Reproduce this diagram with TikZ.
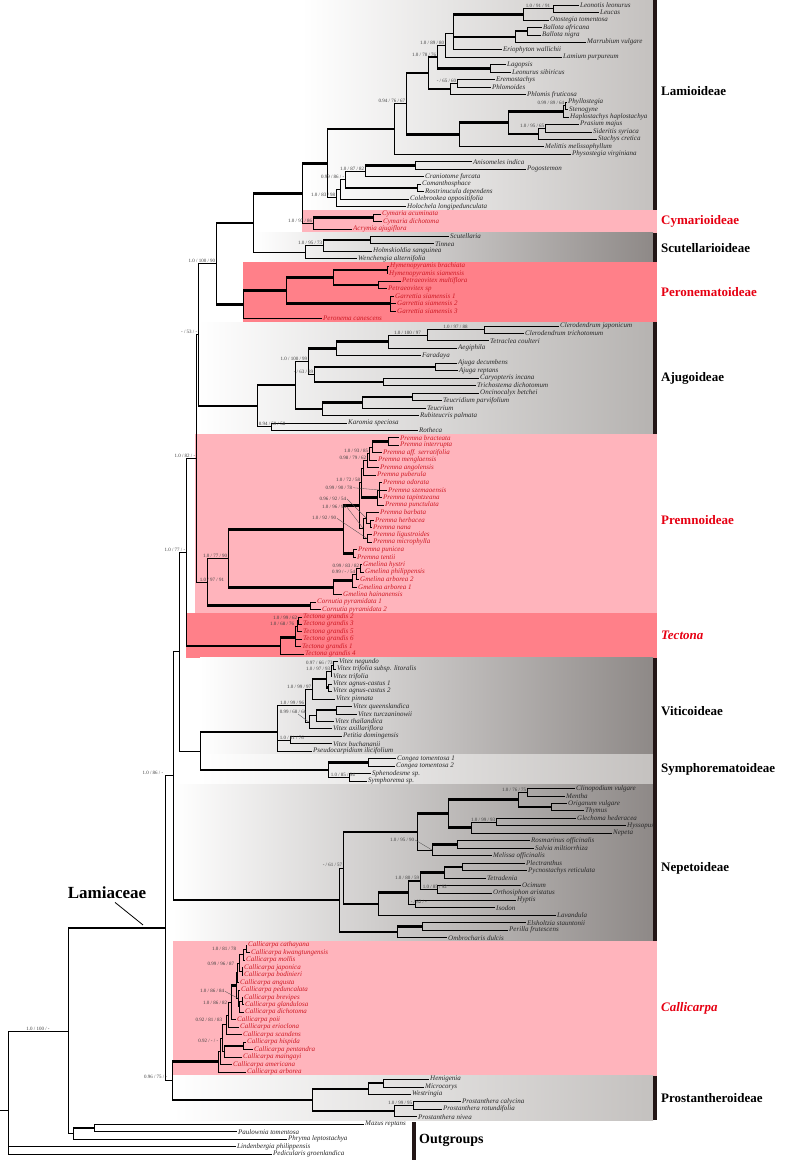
\documentclass[tikz,border=0pt]{standalone}
\usepackage{fontspec}
\setmainfont{Liberation Serif}
\usetikzlibrary{calc}
\definecolor{pinkbg}{RGB}{255,180,188}
\definecolor{salmonbg}{RGB}{255,128,137}
\definecolor{darkbg}{RGB}{142,137,135}
\definecolor{lightbg}{RGB}{196,193,191}
\definecolor{midbg}{RGB}{182,179,177}
\definecolor{redlab}{RGB}{230,0,18}
\definecolor{redtax}{RGB}{205,25,35}
\definecolor{barcol}{RGB}{35,22,22}

\begin{document}
\begin{tikzpicture}[x=1pt, y=-7.461pt,
    taxon/.style={anchor=west, inner sep=1pt, font=\fontsize{7}{8}\selectfont\itshape, text=black!85},
    rtaxon/.style={taxon, text=redtax},
    supp/.style={inner sep=0.6pt, font=\fontsize{5}{6}\selectfont, text=black!75},
    sfam/.style={anchor=west, inner sep=0pt, font=\fontsize{13}{15}\selectfont\bfseries},
    hb/.style={line width=2.4pt},
    ptr/.style={line width=0.3pt, black!70}]

\useasboundingbox (0pt,0pt) rectangle (787pt,-1160pt);

\begin{scope}[yshift=-5pt]
    % clade boxes
    \shade[left color=white, right color=lightbg] (302,-0.67) rectangle (653,27.5);
    \fill[pinkbg] (302,27.5) rectangle (657,30.5);
    \shade[left color=white, right color=darkbg] (253,30.5) rectangle (653,34.5);
    \fill[salmonbg] (243,34.5) rectangle (657,42.5);
    \shade[left color=white, right color=midbg] (198,42.5) rectangle (653,57.5);
    \fill[pinkbg] (195,57.5) rectangle (657,81.5);
    \fill[salmonbg] (186,81.5) rectangle (657,87.5);
    \shade[left color=white, right color=darkbg] (200,87.5) rectangle (653,100.5);
    \shade[left color=white, right color=lightbg] (200,100.5) rectangle (653,104.5);
    \shade[left color=white, right color=darkbg] (173,104.5) rectangle (653,125.5);
    \fill[pinkbg] (173,125.5) rectangle (657,143.5);
    \shade[left color=white, right color=lightbg] (173,143.5) rectangle (653,149.5);
    % bars
    \fill[barcol] (653,-0.67) rectangle (657,27.5);
    \fill[barcol] (653,30.5) rectangle (657,34.5);
    \fill[barcol] (653,42.5) rectangle (657,57.5);
    \fill[barcol] (653,87.5) rectangle (657,125.5);
    \fill[barcol] (653,143.5) rectangle (657,149.5);
    \fill[barcol] (412,149.7) rectangle (416,154.9);

    % taxa
    \node[taxon] (leon) at (579,0) {Leonotis leonurus};
    \node[taxon] (leuc) at (599,1) {Leucas};
    \node[taxon] (otos) at (549,2) {Otostegia tomentosa};
    \node[taxon] (balaf) at (542,3) {Ballota africana};
    \node[taxon] (balni) at (541,4) {Ballota nigra};
    \node[taxon] (marr) at (586,5) {Marrubium vulgare};
    \node[taxon] (erio) at (502,6) {Eriophyton wallichii};
    \node[taxon] (lami) at (562,7) {Lamium purpureum};
    \node[taxon] (lago) at (506,8) {Lagopsis};
    \node[taxon] (leonu) at (511,9) {Leonurus sibiricus};
    \node[taxon] (eremo) at (495,10) {Eremostachys};
    \node[taxon] (phlo) at (491,11) {Phlomoides};
    \node[taxon] (phlfr) at (526,12) {Phlomis fruticosa};
    \node[taxon] (phyl) at (567,13) {Phyllostegia};
    \node[taxon] (sten) at (568,14) {Stenogyne};
    \node[taxon] (hapl) at (569,15) {Haplostachys haplostachya};
    \node[taxon] (pras) at (579,16) {Prasium majus};
    \node[taxon] (side) at (592,17) {Sideritis syriaca};
    \node[taxon] (stac) at (597,18) {Stachys cretica};
    \node[taxon] (meli) at (544,19) {Melittis melissophyllum};
    \node[taxon] (phys) at (571,20) {Physostegia virginiana};
    \node[taxon] (anis) at (472,21) {Anisomeles indica};
    \node[taxon] (pogo) at (526,22) {Pogostemon};
    \node[taxon] (cran) at (424,23) {Craniotome furcata};
    \node[taxon] (coma) at (421,24) {Comanthosphace};
    \node[taxon] (rost) at (424,25) {Rostrinucula dependens};
    \node[taxon] (cole) at (409,26) {Colebrookea oppositifolia};
    \node[taxon] (holo) at (406,27) {Holochela longipedunculata};
    \node[rtaxon] (cymac) at (381,28) {Cymaria acuminata};
    \node[rtaxon] (cymdi) at (382,29) {Cymaria dichotoma};
    \node[rtaxon] (acry) at (352,30) {Acrymia ajugiflora};
    \node[taxon] (scut) at (449,31) {Scutellaria};
    \node[taxon] (tinn) at (434,32) {Tinnea};
    \node[taxon] (holm) at (372,33) {Holmskioldia sanguinea};
    \node[taxon] (wenc) at (357,34) {Wenchengia alternifolia};
    \node[rtaxon] (hymbr) at (389,35) {Hymenopyramis brachiata};
    \node[rtaxon] (hymsi) at (388,36) {Hymenopyramis siamensis};
    \node[rtaxon] (petmu) at (401,37) {Petraeovitex multiflora};
    \node[rtaxon] (petsp) at (387,38) {Petraeovitex sp};
    \node[rtaxon] (gar1) at (394,39) {Garrettia siamensis 1};
    \node[rtaxon] (gar2) at (396,40) {Garrettia siamensis 2};
    \node[rtaxon] (gar3) at (396,41) {Garrettia siamensis 3};
    \node[rtaxon] (pero) at (322,42) {Peronema canescens};
    \node[taxon] (clja) at (559,43) {Clerodendrum japonicum};
    \node[taxon] (cltr) at (524,44) {Clerodendrum trichotomum};
    \node[taxon] (tetr) at (489,45) {Tetraclea coulteri};
    \node[taxon] (aegi) at (457,46) {Aegiphila};
    \node[taxon] (fara) at (421,47) {Faradaya};
    \node[taxon] (ajde) at (457,48) {Ajuga decumbens};
    \node[taxon] (ajre) at (458,49) {Ajuga reptans};
    \node[taxon] (cary) at (479,50) {Caryopteris incana};
    \node[taxon] (tric) at (476,51) {Trichostema dichotomum};
    \node[taxon] (onci) at (479,52) {Oncinocalyx betchei};
    \node[taxon] (teuc) at (442,53) {Teucridium parvifolium};
    \node[taxon] (teucr) at (426,54) {Teucrium};
    \node[taxon] (rubi) at (419,55) {Rubiteucris palmata};
    \node[taxon] (karo) at (347,56) {Karomia speciosa};
    \node[taxon] (roth) at (418,57) {Rotheca};
    \node[rtaxon] (prbr) at (399,58) {Premna bracteata};
    \node[rtaxon] (prin) at (399,59) {Premna interrupta};
    \node[rtaxon] (prse) at (382,60) {Premna aff. serratifolia};
    \node[rtaxon] (prme) at (377,61) {Premna menglaensis};
    \node[rtaxon] (pran) at (379,62) {Premna angolensis};
    \node[rtaxon] (prpu) at (376,63) {Premna puberula};
    \node[rtaxon] (prod) at (382,64) {Premna odorata};
    \node[rtaxon] (prsz) at (387,65) {Premna szemaoensis};
    \node[rtaxon] (prta) at (382,66) {Premna tapintzeana};
    \node[rtaxon] (prpc) at (384,67) {Premna punctulata};
    \node[rtaxon] (prba) at (379,68) {Premna barbata};
    \node[rtaxon] (prhe) at (374,69) {Premna herbacea};
    \node[rtaxon] (prna) at (372,70) {Premna nana};
    \node[rtaxon] (prli) at (372,71) {Premna ligustroides};
    \node[rtaxon] (prmi) at (372,72) {Premna microphylla};
    \node[rtaxon] (prpn) at (357,73) {Premna punicea};
    \node[rtaxon] (prte) at (356,74) {Premna tentii};
    \node[rtaxon] (gmhy) at (362,75) {Gmelina hystri};
    \node[rtaxon] (gmph) at (364,76) {Gmelina philippensis};
    \node[rtaxon] (gmar2) at (359,77) {Gmelina arborea 2};
    \node[rtaxon] (gmar1) at (357,78) {Gmelina arborea 1};
    \node[rtaxon] (gmha) at (342,79) {Gmelina hainanensis};
    \node[rtaxon] (corn1) at (316,80) {Cornutia pyramidata 1};
    \node[rtaxon] (corn2) at (321,81) {Cornutia pyramidata 2};
    \node[rtaxon] (tg2) at (302,82) {Tectona grandis 2};
    \node[rtaxon] (tg3) at (302,83) {Tectona grandis 3};
    \node[rtaxon] (tg5) at (302,84) {Tectona grandis 5};
    \node[rtaxon] (tg6) at (302,85) {Tectona grandis 6};
    \node[rtaxon] (tg1) at (301,86) {Tectona grandis 1};
    \node[rtaxon] (tg4) at (304,87) {Tectona grandis 4};
    \node[taxon] (vneg) at (338,88) {Vitex negundo};
    \node[taxon] (vtrl) at (336,89) {Vitex trifolia subsp. litoralis};
    \node[taxon] (vtri) at (332,90) {Vitex trifolia};
    \node[taxon] (vag1) at (332,91) {Vitex agnus-castus 1};
    \node[taxon] (vag2) at (332,92) {Vitex agnus-castus 2};
    \node[taxon] (vpin) at (335,93) {Vitex pinnata};
    \node[taxon] (vque) at (352,94) {Vitex queenslandica};
    \node[taxon] (vtur) at (357,95) {Vitex turczaninowii};
    \node[taxon] (vtha) at (334,96) {Vitex thailandica};
    \node[taxon] (vaxi) at (332,97) {Vitex axillariflora};
    \node[taxon] (peti) at (342,98) {Petitia domingensis};
    \node[taxon] (vbuc) at (332,99) {Vitex buchananii};
    \node[taxon] (pseu) at (312,100) {Pseudocarpidium ilicifolium};
    \node[taxon] (cong1) at (396,101) {Congea tomentosa 1};
    \node[taxon] (cong2) at (395,102) {Congea tomentosa 2};
    \node[taxon] (sphe) at (371,103) {Sphenodesme sp.};
    \node[taxon] (symp) at (367,104) {Symphorema sp.};
    \node[taxon] (clin) at (575,105) {Clinopodium vulgare};
    \node[taxon] (ment) at (565,106) {Mentha};
    \node[taxon] (orig) at (567,107) {Origanum vulgare};
    \node[taxon] (thym) at (584,108) {Thymus};
    \node[taxon] (glec) at (576,109) {Glechoma hederacea};
    \node[taxon] (hyss) at (626,110) {Hyssopus};
    \node[taxon] (nepe) at (612,111) {Nepeta};
    \node[taxon] (rosm) at (530,112) {Rosmarinus officinalis};
    \node[taxon] (salv) at (534,113) {Salvia miltiorrhiza};
    \node[taxon] (melo) at (492,114) {Melissa officinalis};
    \node[taxon] (plec) at (525,115) {Plectranthus};
    \node[taxon] (pycn) at (527,116) {Pycnostachys reticulata};
    \node[taxon] (tetd) at (486,117) {Tetradenia};
    \node[taxon] (ocim) at (521,118) {Ocimum};
    \node[taxon] (orth) at (492,119) {Orthosiphon aristatus};
    \node[taxon] (hypt) at (516,120) {Hyptis};
    \node[taxon] (isod) at (495,121) {Isodon};
    \node[taxon] (lava) at (556,122) {Lavandula};
    \node[taxon] (elsh) at (526,123) {Elsholtzia stauntonii};
    \node[taxon] (peri) at (508,124) {Perilla frutescens};
    \node[taxon] (ombr) at (447,125) {Ombrocharis dulcis};
    \node[rtaxon] (cacat) at (247,126) {Callicarpa cathayana};
    \node[rtaxon] (cakwa) at (250,127) {Callicarpa kwangtungensis};
    \node[rtaxon] (camol) at (245,128) {Callicarpa mollis};
    \node[rtaxon] (cajap) at (243,129) {Callicarpa japonica};
    \node[rtaxon] (cabod) at (243,130) {Callicarpa bodinieri};
    \node[rtaxon] (caang) at (239,131) {Callicarpa angusta};
    \node[rtaxon] (caped) at (240,132) {Callicarpa peduncalata};
    \node[rtaxon] (cabre) at (243,133) {Callicarpa brevipes};
    \node[rtaxon] (cagla) at (244,134) {Callicarpa glandulosa};
    \node[rtaxon] (cadic) at (244,135) {Callicarpa dichotoma};
    \node[rtaxon] (capoi) at (236,136) {Callicarpa poii};
    \node[rtaxon] (caeri) at (239,137) {Callicarpa erioclona};
    \node[rtaxon] (casca) at (242,138) {Callicarpa scandens};
    \node[rtaxon] (cahis) at (246,139) {Callicarpa hispida};
    \node[rtaxon] (capen) at (253,140) {Callicarpa pentandra};
    \node[rtaxon] (camai) at (242,141) {Callicarpa maingayi};
    \node[rtaxon] (caame) at (232,142) {Callicarpa americana};
    \node[rtaxon] (caarb) at (246,143) {Callicarpa arborea};
    \node[taxon] (hemi) at (429,144) {Hemigenia};
    \node[taxon] (micr) at (424,145) {Microcorys};
    \node[taxon] (west) at (411,146) {Westringia};
    \node[taxon] (prcal) at (461,147) {Prostanthera calycina};
    \node[taxon] (prrot) at (442,148) {Prostanthera rotundifolia};
    \node[taxon] (prniv) at (417,149) {Prostanthera nivea};
    \node[taxon] (mazu) at (364,150) {Mazus reptans};
    \node[taxon] (paul) at (237,151) {Paulownia tomentosa};
    \node[taxon] (phry) at (287,152) {Phryma leptostachya};
    \node[taxon] (lind) at (236,153) {Lindenbergia philippensis};
    \node[taxon] (pedi) at (272,154) {Pedicularis groenlandica};

    % inner nodes
    \coordinate (lam1) at (553,0.5);
    \coordinate (lam2) at (523,1.25);
    \coordinate (lam3) at (527,3.5);
    \coordinate (lam4) at (515,4.25);
    \coordinate (lam5) at (453,3.833);
    \coordinate (lam7) at (445,5.417);
    \coordinate (lam8) at (490,8.5);
    \coordinate (lam9) at (437,6.958);
    \coordinate (lam10) at (457,10.5);
    \coordinate (lam11) at (450,11.25);
    \coordinate (lam12) at (428,9.104);
    \coordinate (lam13) at (565,13.5);
    \coordinate (lam14) at (563,14.25);
    \coordinate (lam16) at (545,16.5);
    \coordinate (lam17) at (538,17.25);
    \coordinate (lam18) at (508,15.75);
    \coordinate (lam19) at (459,17.375);
    \coordinate (lam20) at (406,13.24);
    \coordinate (lam21) at (394,16.62);
    \coordinate (po1) at (415,21.5);
    \coordinate (po2) at (365,22.25);
    \coordinate (po3) at (417,24.5);
    \coordinate (po4) at (345,23.375);
    \coordinate (po5) at (340,24.69);
    \coordinate (po6) at (336,25.84);
    \coordinate (bk7) at (327,21.23);
    \coordinate (cy1) at (373,28.5);
    \coordinate (cy2) at (313,29.25);
    \coordinate (bk8) at (302,25.24);
    \coordinate (sc1) at (370,31.5);
    \coordinate (sc2) at (323,32.25);
    \coordinate (sc3) at (305,33.125);
    \coordinate (bk9) at (253,29.18);
    \coordinate (pe1) at (387,35.5);
    \coordinate (pe2) at (378,37.5);
    \coordinate (pe3) at (333,36.5);
    \coordinate (pe4) at (390,40);
    \coordinate (pe5) at (286,38.25);
    \coordinate (pe6) at (243,40.125);
    \coordinate (bk10) at (216,34.65);
    \coordinate (aj1) at (484,43.5);
    \coordinate (aj2) at (427,44.25);
    \coordinate (aj3) at (388,45.125);
    \coordinate (aj4) at (336,46.06);
    \coordinate (aj5) at (435,48.5);
    \coordinate (aj6) at (383,50.5);
    \coordinate (aj7) at (314,49.5);
    \coordinate (aj8) at (308,47.78);
    \coordinate (aj9) at (412,52.5);
    \coordinate (aj10) at (362,53.25);
    \coordinate (aj11) at (322,54.125);
    \coordinate (aj12) at (295,50.95);
    \coordinate (aj13) at (271,56.5);
    \coordinate (aj14) at (257,53.73);
    \coordinate (bk11) at (198,44.19);
    \coordinate (pm1) at (388,58.5);
    \coordinate (pm2) at (372,59.25);
    \coordinate (pm3) at (369,60.125);
    \coordinate (pm4) at (367,61.06);
    \coordinate (pm5) at (363,62.03);
    \coordinate (pm6a) at (379,65);
    \coordinate (pm6) at (377,66);
    \coordinate (pm7) at (361,64.02);
    \coordinate (pm8a) at (370,69.5);
    \coordinate (pm8) at (366,68.75);
    \coordinate (pm9) at (367,71.5);
    \coordinate (pm10) at (363,70.125);
    \coordinate (pm11) at (359,67.07);
    \coordinate (pm12) at (353,73.5);
    \coordinate (pm13) at (343,70.29);
    \coordinate (gm1) at (360,75.5);
    \coordinate (gm2) at (356,76.25);
    \coordinate (gm3) at (352,77.125);
    \coordinate (gm4) at (333,78.06);
    \coordinate (pm77) at (228,74.18);
    \coordinate (cn) at (310,80.5);
    \coordinate (pmc) at (207,77.34);
    \coordinate (bk12) at (196,60.77);
    \coordinate (tc1) at (298,82.5);
    \coordinate (tc2) at (297,83.25);
    \coordinate (tc3) at (295.5,84.75);
    \coordinate (tc4) at (280,85.875);
    \coordinate (bk13) at (186,73.32);
    \coordinate (vi1) at (333.5,88.5);
    \coordinate (vi2) at (331,89.25);
    \coordinate (vi3) at (328,91.5);
    \coordinate (vi4) at (326,90.375);
    \coordinate (vi5) at (312,91.69);
    \coordinate (vi6) at (336,94.5);
    \coordinate (vi7) at (316,95.25);
    \coordinate (vi8) at (309,96.125);
    \coordinate (vi9) at (305,93.91);
    \coordinate (vi10) at (290,98.5);
    \coordinate (vi11) at (277,97.47);
    \coordinate (sy1) at (368,101.5);
    \coordinate (sy2) at (349,103.5);
    \coordinate (sy3) at (328,102.5);
    \coordinate (vs) at (200,99.99);
    \coordinate (bk14) at (179,86.65);
    \coordinate (ne1) at (527,105.5);
    \coordinate (ne2) at (551,107.5);
    \coordinate (ne3) at (518,106.5);
    \coordinate (ne4) at (496,109.5);
    \coordinate (ne5) at (471,110.25);
    \coordinate (ne6) at (448,108.375);
    \coordinate (ne7) at (457,112.5);
    \coordinate (ne8) at (432,113.25);
    \coordinate (ne9) at (417,110.81);
    \coordinate (ne10) at (462,115.5);
    \coordinate (ne11) at (444,116.25);
    \coordinate (ne12) at (437,118.5);
    \coordinate (ne13) at (420,117.375);
    \coordinate (ne14) at (415,120.5);
    \coordinate (ne15) at (408,118.94);
    \coordinate (ne16) at (378,120.47);
    \coordinate (ne17) at (343,115.64);
    \coordinate (ne18) at (422,123.5);
    \coordinate (ne19) at (397,124.25);
    \coordinate (nec) at (339,119.95);
    \coordinate (bk15) at (173,103.3);
    \coordinate (ca1) at (246,126.5);
    \coordinate (ca2) at (243,127.25);
    \coordinate (ca3) at (242,129.5);
    \coordinate (ca4) at (239,128.375);
    \coordinate (ca5) at (237.5,129.69);
    \coordinate (ca7) at (242,133.5);
    \coordinate (ca8) at (239.5,134.25);
    \coordinate (ca9) at (238,133.125);
    \coordinate (ca10) at (236,131.41);
    \coordinate (ca11) at (231,133.7);
    \coordinate (ca12) at (228,135.35);
    \coordinate (ca12b) at (226,136.68);
    \coordinate (ca13) at (243,139.5);
    \coordinate (cab) at (224,140.25);
    \coordinate (ca15) at (222,138.46);
    \coordinate (ca16) at (220,140.23);
    \coordinate (cac) at (218.5,141.62);
    \coordinate (pt1) at (383,144.5);
    \coordinate (pt2) at (368,145.25);
    \coordinate (pt3) at (413,147.5);
    \coordinate (pt4) at (394,148.25);
    \coordinate (ptc) at (312,146.75);
    \coordinate (cp) at (172,144.18);
    \coordinate (lamcr) at (165,123.74);
    \coordinate (og2) at (94,150.5);
    \coordinate (og1) at (73,151.25);
    \coordinate (olo) at (68,137.5);
    \coordinate (root) at (8,148.17);
    \coordinate (rootbase) at (0,148.17);

    % branches
    \begin{scope}[line width=0.6pt]
        \draw (lam1) |- (leon);  \draw (lam1) |- (leuc);
        \draw (lam2) |- (lam1);  \draw (lam2) |- (otos);
        \draw (lam3) |- (balaf); \draw (lam3) |- (balni);
        \draw (lam4) |- (lam3);  \draw (lam4) |- (marr);
        \draw (lam5) |- (lam2);  \draw (lam5) |- (lam4);  \draw (lam5) |- (erio);
        \draw (lam7) |- (lam5);  \draw (lam7) |- (lami);
        \draw (lam8) |- (lago);  \draw (lam8) |- (leonu);
        \draw (lam9) |- (lam7);  \draw (lam9) |- (lam8);
        \draw (lam10) |- (eremo); \draw (lam10) |- (phlo);
        \draw (lam11) |- (lam10); \draw (lam11) |- (phlfr);
        \draw (lam12) |- (lam9); \draw (lam12) |- (lam11);
        \draw (lam13) |- (phyl); \draw (lam13) |- (sten);
        \draw (lam14) |- (lam13); \draw (lam14) |- (hapl);
        \draw (lam16) |- (pras); \draw (lam16) |- (side);
        \draw (lam17) |- (lam16); \draw (lam17) |- (stac);
        \draw (lam18) |- (lam14); \draw (lam18) |- (lam17);
        \draw (lam19) |- (lam18); \draw (lam19) |- (meli);
        \draw (lam20) |- (lam12); \draw (lam20) |- (lam19);
        \draw (lam21) |- (lam20); \draw (lam21) |- (phys);
        \draw (po1) |- (anis); \draw (po1) |- (pogo);
        \draw (po2) |- (po1);  \draw (po2) |- (cran);
        \draw (po3) |- (coma); \draw (po3) |- (rost);
        \draw (po4) |- (po2);  \draw (po4) |- (po3);
        \draw (po5) |- (po4);  \draw (po5) |- (cole);
        \draw (po6) |- (po5);  \draw (po6) |- (holo);
        \draw (bk7) |- (lam21); \draw (bk7) |- (po6);
        \draw (cy1) |- (cymac); \draw (cy1) |- (cymdi);
        \draw (cy2) |- (cy1);  \draw (cy2) |- (acry);
        \draw (bk8) |- (bk7);  \draw (bk8) |- (cy2);
        \draw (sc1) |- (scut); \draw (sc1) |- (tinn);
        \draw (sc2) |- (sc1);  \draw (sc2) |- (holm);
        \draw (sc3) |- (sc2);  \draw (sc3) |- (wenc);
        \draw (bk9) |- (bk8);  \draw (bk9) |- (sc3);
        \draw (pe1) |- (hymbr); \draw (pe1) |- (hymsi);
        \draw (pe2) |- (petmu); \draw (pe2) |- (petsp);
        \draw (pe3) |- (pe1);  \draw (pe3) |- (pe2);
        \draw (pe4) |- (gar1); \draw (pe4) |- (gar2); \draw (pe4) |- (gar3);
        \draw (pe5) |- (pe3);  \draw (pe5) |- (pe4);
        \draw (pe6) |- (pe5);  \draw (pe6) |- (pero);
        \draw (bk10) |- (bk9); \draw (bk10) |- (pe6);
        \draw (aj1) |- (clja); \draw (aj1) |- (cltr);
        \draw (aj2) |- (aj1);  \draw (aj2) |- (tetr);
        \draw (aj3) |- (aj2);  \draw (aj3) |- (aegi);
        \draw (aj4) |- (aj3);  \draw (aj4) |- (fara);
        \draw (aj5) |- (ajde); \draw (aj5) |- (ajre);
        \draw (aj6) |- (cary); \draw (aj6) |- (tric);
        \draw (aj7) |- (aj5);  \draw (aj7) |- (aj6);
        \draw (aj8) |- (aj4);  \draw (aj8) |- (aj7);
        \draw (aj9) |- (onci); \draw (aj9) |- (teuc);
        \draw (aj10) |- (aj9); \draw (aj10) |- (teucr);
        \draw (aj11) |- (aj10); \draw (aj11) |- (rubi);
        \draw (aj12) |- (aj8); \draw (aj12) |- (aj11);
        \draw (aj13) |- (karo); \draw (aj13) |- (roth);
        \draw (aj14) |- (aj12); \draw (aj14) |- (aj13);
        \draw (bk11) |- (bk10); \draw (bk11) |- (aj14);
        \draw (pm1) |- (prbr); \draw (pm1) |- (prin);
        \draw (pm2) |- (pm1);  \draw (pm2) |- (prse);
        \draw (pm3) |- (pm2);  \draw (pm3) |- (prme);
        \draw (pm4) |- (pm3);  \draw (pm4) |- (pran);
        \draw (pm5) |- (pm4);  \draw (pm5) |- (prpu);
        \draw (pm6a) |- (prod); \draw (pm6a) |- (prsz); \draw (pm6a) |- (prta);
        \draw (pm6) |- (pm6a); \draw (pm6) |- (prpc);
        \draw (pm7) |- (pm5);  \draw (pm7) |- (pm6);
        \draw (pm8a) |- (prhe); \draw (pm8a) |- (prna);
        \draw (pm8) |- (prba); \draw (pm8) |- (pm8a);
        \draw (pm9) |- (prli); \draw (pm9) |- (prmi);
        \draw (pm10) |- (pm8); \draw (pm10) |- (pm9);
        \draw (pm11) |- (pm7); \draw (pm11) |- (pm10);
        \draw (pm12) |- (prpn); \draw (pm12) |- (prte);
        \draw (pm13) |- (pm11); \draw (pm13) |- (pm12);
        \draw (gm1) |- (gmhy); \draw (gm1) |- (gmph);
        \draw (gm2) |- (gm1);  \draw (gm2) |- (gmar2);
        \draw (gm3) |- (gm2);  \draw (gm3) |- (gmar1);
        \draw (gm4) |- (gm3);  \draw (gm4) |- (gmha);
        \draw (pm77) |- (pm13); \draw (pm77) |- (gm4);
        \draw (cn) |- (corn1); \draw (cn) |- (corn2);
        \draw (pmc) |- (pm77); \draw (pmc) |- (cn);
        \draw (bk12) |- (bk11); \draw (bk12) |- (pmc);
        \draw (tc1) |- (tg2);  \draw (tc1) |- (tg3);
        \draw (tc2) |- (tc1);  \draw (tc2) |- (tg5);
        \draw (tc3) |- (tc2);  \draw (tc3) |- (tg6); \draw (tc3) |- (tg1);
        \draw (tc4) |- (tc3);  \draw (tc4) |- (tg4);
        \draw (bk13) |- (bk12); \draw (bk13) |- (tc4);
        \draw (vi1) |- (vneg); \draw (vi1) |- (vtrl);
        \draw (vi2) |- (vi1);  \draw (vi2) |- (vtri);
        \draw (vi3) |- (vag1); \draw (vi3) |- (vag2);
        \draw (vi4) |- (vi2);  \draw (vi4) |- (vi3);
        \draw (vi5) |- (vi4);  \draw (vi5) |- (vpin);
        \draw (vi6) |- (vque); \draw (vi6) |- (vtur);
        \draw (vi7) |- (vi6);  \draw (vi7) |- (vtha);
        \draw (vi8) |- (vi7);  \draw (vi8) |- (vaxi);
        \draw (vi9) |- (vi5);  \draw (vi9) |- (vi8);
        \draw (vi10) |- (peti); \draw (vi10) |- (vbuc);
        \draw (vi11) |- (vi9); \draw (vi11) |- (vi10); \draw (vi11) |- (pseu);
        \draw (sy1) |- (cong1); \draw (sy1) |- (cong2);
        \draw (sy2) |- (sphe); \draw (sy2) |- (symp);
        \draw (sy3) |- (sy1);  \draw (sy3) |- (sy2);
        \draw (vs) |- (vi11);  \draw (vs) |- (sy3);
        \draw (bk14) |- (bk13); \draw (bk14) |- (vs);
        \draw (ne1) |- (clin); \draw (ne1) |- (ment);
        \draw (ne2) |- (orig); \draw (ne2) |- (thym);
        \draw (ne3) |- (ne1);  \draw (ne3) |- (ne2);
        \draw (ne4) |- (glec); \draw (ne4) |- (hyss);
        \draw (ne5) |- (ne4);  \draw (ne5) |- (nepe);
        \draw (ne6) |- (ne3);  \draw (ne6) |- (ne5);
        \draw (ne7) |- (rosm); \draw (ne7) |- (salv);
        \draw (ne8) |- (ne7);  \draw (ne8) |- (melo);
        \draw (ne9) |- (ne6);  \draw (ne9) |- (ne8);
        \draw (ne10) |- (plec); \draw (ne10) |- (pycn);
        \draw (ne11) |- (ne10); \draw (ne11) |- (tetd);
        \draw (ne12) |- (ocim); \draw (ne12) |- (orth);
        \draw (ne13) |- (ne11); \draw (ne13) |- (ne12);
        \draw (ne14) |- (hypt); \draw (ne14) |- (isod);
        \draw (ne15) |- (ne13); \draw (ne15) |- (ne14);
        \draw (ne16) |- (ne15); \draw (ne16) |- (lava);
        \draw (ne17) |- (ne9); \draw (ne17) |- (ne16);
        \draw (ne18) |- (elsh); \draw (ne18) |- (peri);
        \draw (ne19) |- (ne18); \draw (ne19) |- (ombr);
        \draw (nec) |- (ne17); \draw (nec) |- (ne19);
        \draw (bk15) |- (bk14); \draw (bk15) |- (nec);
        \draw (ca1) |- (cacat); \draw (ca1) |- (cakwa);
        \draw (ca2) |- (ca1);  \draw (ca2) |- (camol);
        \draw (ca3) |- (cajap); \draw (ca3) |- (cabod);
        \draw (ca4) |- (ca2);  \draw (ca4) |- (ca3);
        \draw (ca5) |- (ca4);  \draw (ca5) |- (caang);
        \draw (ca7) |- (cabre); \draw (ca7) |- (cagla);
        \draw (ca8) |- (ca7);  \draw (ca8) |- (cadic);
        \draw (ca9) |- (caped); \draw (ca9) |- (ca8);
        \draw (ca10) |- (ca5); \draw (ca10) |- (ca9);
        \draw (ca11) |- (ca10); \draw (ca11) |- (capoi);
        \draw (ca12) |- (ca11); \draw (ca12) |- (caeri);
        \draw (ca12b) |- (ca12); \draw (ca12b) |- (casca);
        \draw (ca13) |- (cahis); \draw (ca13) |- (capen);
        \draw (cab) |- (ca13); \draw (cab) |- (camai);
        \draw (ca15) |- (ca12b); \draw (ca15) |- (cab);
        \draw (ca16) |- (ca15); \draw (ca16) |- (caame);
        \draw (cac) |- (ca16); \draw (cac) |- (caarb);
        \draw (pt1) |- (hemi); \draw (pt1) |- (micr);
        \draw (pt2) |- (pt1);  \draw (pt2) |- (west);
        \draw (pt3) |- (prcal); \draw (pt3) |- (prrot);
        \draw (pt4) |- (pt3);  \draw (pt4) |- (prniv);
        \draw (ptc) |- (pt2);  \draw (ptc) |- (pt4);
        \draw (cp) |- (cac);   \draw (cp) |- (ptc);
        \draw (lamcr) |- (bk15); \draw (lamcr) |- (cp);
        \draw (og2) |- (mazu); \draw (og2) |- (paul);
        \draw (og1) |- (og2);  \draw (og1) |- (phry);
        \draw (olo) |- (lamcr); \draw (olo) |- (og1);
        \draw (root) |- (olo); \draw (root) |- (lind); \draw (root) |- (pedi);
        \draw (root) -- (rootbase);
    \end{scope}

    % well supported branches
    \begin{scope}[hb]
        \draw (lam5 |- lam2) -- (lam2);   \draw (lam5 |- lam4) -- (lam4);
        \draw (lam4 |- lam3) -- (lam3);   \draw (lam9 |- lam8) -- (lam8);
        \draw (lam12 |- lam9) -- (lam9);  \draw (lam12 |- lam11) -- (lam11);
        \draw (lam20 |- lam12) -- (lam12); \draw (lam20 |- lam19) -- (lam19);
        \draw (lam19 |- lam18) -- (lam18); \draw (lam18 |- lam14) -- (lam14);
        \draw (lam18 |- lam17) -- (lam17); \draw (bk7 |- lam21) -- (lam21);
        \draw (po2 |- po1) -- (po1);      \draw (po4 |- po3) -- (po3);
        \draw (bk8 |- bk7) -- (bk7);      \draw (cy2 |- cy1) -- (cy1);
        \draw (bk9 |- bk8) -- (bk8);      \draw (sc2 |- sc1) -- (sc1);
        \draw (bk10 |- bk9) -- (bk9);     \draw (bk10 |- pe6) -- (pe6);
        \draw (pe6 |- pe5) -- (pe5);      \draw (pe5 |- pe3) -- (pe3);
        \draw (pe5 |- pe4) -- (pe4);      \draw (pe3 |- pe1) -- (pe1);
        \draw (pe3 |- pe2) -- (pe2);
        \draw (bk11 |- aj14) -- (aj14);   \draw (aj14 |- aj12) -- (aj12);
        \draw (aj12 |- aj11) -- (aj11);   \draw (aj11 |- aj10) -- (aj10);
        \draw (aj10 |- aj9) -- (aj9);     \draw (aj8 |- aj4) -- (aj4);
        \draw (aj4 |- aj3) -- (aj3);      \draw (aj7 |- aj5) -- (aj5);
        \draw (aj7 |- aj6) -- (aj6);
        \draw (pmc |- cn) -- (cn);        \draw (pm77 |- pm13) -- (pm13);
        \draw (pm77 |- gm4) -- (gm4);     \draw (pm13 |- pm11) -- (pm11);
        \draw (pm13 |- pm12) -- (pm12);   \draw (pm7 |- pm6) -- (pm6);
        \draw (pm2 |- pm1) -- (pm1);      \draw (gm4 |- gm3) -- (gm3);
        \draw (bk13 |- tc4) -- (tc4);     \draw (tc4 |- tc3) -- (tc3);
        \draw (vs |- vi11) -- (vi11);     \draw (vs |- sy3) -- (sy3);
        \draw (sy3 |- sy1) -- (sy1);      \draw (vi5 |- vi4) -- (vi4);
        \draw (vi4 |- vi3) -- (vi3);      \draw (vi7 |- vi6) -- (vi6);
        \draw (bk15 |- nec) -- (nec);     \draw (nec |- ne19) -- (ne19);
        \draw (ne19 |- ne18) -- (ne18);   \draw (ne17 |- ne9) -- (ne9);
        \draw (ne17 |- ne16) -- (ne16);   \draw (ne16 |- ne15) -- (ne15);
        \draw (ne15 |- ne13) -- (ne13);   \draw (ne13 |- ne11) -- (ne11);
        \draw (ne11 |- ne10) -- (ne10);   \draw (ne9 |- ne6) -- (ne6);
        \draw (ne6 |- ne3) -- (ne3);      \draw (ne6 |- ne5) -- (ne5);
        \draw (ne3 |- ne2) -- (ne2);      \draw (ne8 |- ne7) -- (ne7);
        \draw (cp |- cac) -- (cac);       \draw (cp |- ptc) -- (ptc);
        \draw (ca11 |- ca10) -- (ca10);   \draw (cab |- ca13) -- (ca13);
        \draw (ptc |- pt2) -- (pt2);      \draw (ptc |- pt4) -- (pt4);
        \draw (pt2 |- pt1) -- (pt1);
        \draw (olo |- lamcr) -- (lamcr);  \draw (og1 |- og2) -- (og2);
    \end{scope}

    % support values
    \node[supp, anchor=south] (bs1) at ($(lam2 |- lam1)!0.5!(lam1)$) {1.0 / 91 / 91};
    \node[supp, anchor=south east] (bs2) at (lam7) {1.0 / 89 / 80};
    \node[supp, anchor=south east] (bs3) at (lam9) {1.0 / 78 / 76};
    \node[supp, anchor=south east] (bs4) at (lam10) {- / 65 / 60};
    \node[supp, anchor=south east] (bs5) at (lam20) {0.94 / 76 / 67};
    \node[supp, anchor=south east] (bs6) at (lam13) {0.99 / 89 / 64};
    \node[supp, anchor=south east] (bs7) at (lam16) {1.0 / 95 / 65};
    \node[supp, anchor=south east] (bs8) at (po2) {1.0 / 87 / 82};
    \node[supp, anchor=south east] (bs9) at (po4) {0.99 / 86 / -};
    \node[supp, anchor=south east] (bs10) at (po6) {1.0 / 83 / 98};
    \node[supp, anchor=south east] (bs11) at (cy2) {1.0 / 97 / 86};
    \node[supp, anchor=south east] (bs12) at (sc2) {1.0 / 95 / 73};
    \node[supp, anchor=south east] (bs13) at (bk10) {1.0 / 100 / 90};
    \node[supp, anchor=south east] (bs14) at (bk11) {- / 53 / -};
    \node[supp, anchor=south] (bs15) at ($(aj2 |- aj1)!0.5!(aj1)$) {1.0 / 97 / 88};
    \node[supp, anchor=south] (bs16) at ($(aj3 |- aj2)!0.5!(aj2)$) {1.0 / 100 / 97};
    \node[supp, anchor=south east] (bs17) at (aj8) {1.0 / 100 / 99};
    \node[supp, anchor=south east] (bs18) at (aj7) {- / 63 / 89};
    \node[supp, anchor=south west] (bs19) at ([xshift=1pt]aj14 |- aj13) {0.94 / 59 / 58};
    \node[supp, anchor=south east] (bs20) at (bk12) {1.0 / 82 / -};
    \node[supp, anchor=south east] (bs21) at (pm3) {1.0 / 93 / 85};
    \node[supp, anchor=south east] (bs22) at (pm4) {0.98 / 79 / 62};
    \node[supp, anchor=south east] (bs23) at (pm7) {1.0 / 72 / 58};
    \node[supp, anchor=east] (bs24) at (353,64.7) {0.99 / 90 / 78};
    \node[supp, anchor=east] (bs25) at (347,66.2) {0.96 / 92 / 54};
    \node[supp, anchor=east] (bs26) at (347,67.3) {1.0 / 96 / 94};
    \node[supp, anchor=east] (bs27) at (337,68.8) {1.0 / 92 / 90};
    \draw[ptr] (bs24.east) -- (pm6a);
    \draw[ptr] (bs25.east) -- (pm8);
    \draw[ptr] (bs26.east) -- (pm10);
    \draw[ptr] (bs27.east) -- (pm9);
    \node[supp, anchor=south east] (bs28) at (pm77) {1.0 / 77 / 90};
    \node[supp, anchor=south] (bs29) at (212,77.34) {1.0 / 97 / 91};
    \node[supp, anchor=south east] (bs30) at (gm1) {0.99 / 83 / 82};
    \node[supp, anchor=south east] (bs31) at (gm2) {0.99 / - / 54};
    \node[supp, anchor=south east] (bs32) at (tc1) {1.0 / 99 / 62};
    \node[supp, anchor=south east] (bs33) at ([xshift=-2pt]tc2) {1.0 / 68 / 76};
    \node[supp, anchor=south east] (bs34) at (vi1) {0.97 / 66 / 73};
    \node[supp, anchor=south east] (bs35) at (vi2) {1.0 / 97 / 93};
    \node[supp, anchor=south east] (bs36) at (vi5) {1.0 / 99 / 97};
    \node[supp, anchor=south east] (bs37) at (vi9) {1.0 / 99 / 96};
    \node[supp, anchor=west] (bs38) at (279,94.7) {0.99 / 68 / 66};
    \draw[ptr] ([xshift=-9pt]bs38.south east) -- (vi8);
    \node[supp, anchor=south west] (bs39) at ([xshift=2pt]vi11 |- vi10) {1.0 / 81 / 76};
    \node[supp, anchor=south west] (bs40) at ([xshift=2pt]sy3 |- sy2) {1.0 / 85 / 94};
    \node[supp, anchor=south east] (bs41) at (bk13) {1.0 / 77 / -};
    \node[supp, anchor=south east] (bs42) at ([xshift=-1pt]lamcr |- bk15) {1.0 / 86 / -};
    \node[supp, anchor=south east] (bs43) at (ne1) {1.0 / 76 / 75};
    \node[supp, anchor=south east] (bs44) at (ne4) {1.0 / 99 / 93};
    \node[supp, anchor=east] (bs45) at (415,111.9) {1.0 / 95 / 90};
    \draw[ptr] (bs45.east) -- (ne8);
    \node[supp, anchor=south east] (bs46) at (ne17) {- / 61 / 57};
    \node[supp, anchor=south east] (bs47) at (ne13) {1.0 / 80 / 59};
    \node[supp, anchor=south west] (bs48) at ([xshift=2pt]ne13 |- ne12) {1.0 / 85 / 92};
    \node[supp, anchor=south west] (bs49) at ([xshift=2pt]ne15 |- ne14) {- / 82 / -};
    \node[supp, anchor=east] (bs50) at (237,126.5) {1.0 / 81 / 78};
    \node[supp, anchor=east] (bs51) at (235,128.5) {0.99 / 96 / 87};
    \node[supp, anchor=east] (bs52) at (225,132.2) {1.0 / 86 / 84};
    \draw[ptr] (bs52.east) -- (ca9);
    \node[supp, anchor=east] (bs53) at (228,133.8) {1.0 / 86 / 82};
    \node[supp, anchor=east] (bs54) at (223,136.0) {0.92 / 81 / 83};
    \node[supp, anchor=east] (bs55) at (219,138.8) {0.92 / - / -};
    \node[supp, anchor=east] (bs56) at (168,143.7) {0.96 / 75 / -};
    \node[supp, anchor=south east] (bs57) at (pt3) {1.0 / 99 / 95};
    \node[supp, anchor=south] (bs58) at ($(root |- olo)!0.5!(olo)$) {1.0 / 100 / -};

    % clade names
    \node[sfam] (lamioid) at (661,11.5) {Lamioideae};
    \node[sfam, text=redlab] (cymar) at (661,29) {Cymarioideae};
    \node[sfam] (scutel) at (661,32.6) {Scutellarioideae};
    \node[sfam, text=redlab] (peron) at (661,38.5) {Peronematoideae};
    \node[sfam] (ajugo) at (661,50) {Ajugoideae};
    \node[sfam, text=redlab] (premn) at (661,69) {Premnoideae};
    \node[sfam, text=redlab, font=\fontsize{13}{15}\selectfont\bfseries\itshape] (tecto) at (661,84.5) {Tectona};
    \node[sfam] (vitic) at (661,94.6) {Viticoideae};
    \node[sfam] (sympho) at (661,102.5) {Symphorematoideae};
    \node[sfam] (nepet) at (661,115.7) {Nepetoideae};
    \node[sfam, text=redlab, font=\fontsize{13}{15}\selectfont\bfseries\itshape] (callic) at (661,134.5) {Callicarpa};
    \node[sfam] (prost) at (661,146.5) {Prostantheroideae};
    \node[sfam, font=\fontsize{14}{16}\selectfont\bfseries] (outg) at (419,152.2) {Outgroups};

    \node[font=\fontsize{17}{20}\selectfont\bfseries] (lamlab) at (107,119.0) {Lamiaceae};
    \coordinate (lamtick) at (143,123.3);
    \draw[line width=0.8pt] ([xshift=8pt]lamlab.south) -- (lamtick);
\end{scope}
\end{tikzpicture}
\end{document}
